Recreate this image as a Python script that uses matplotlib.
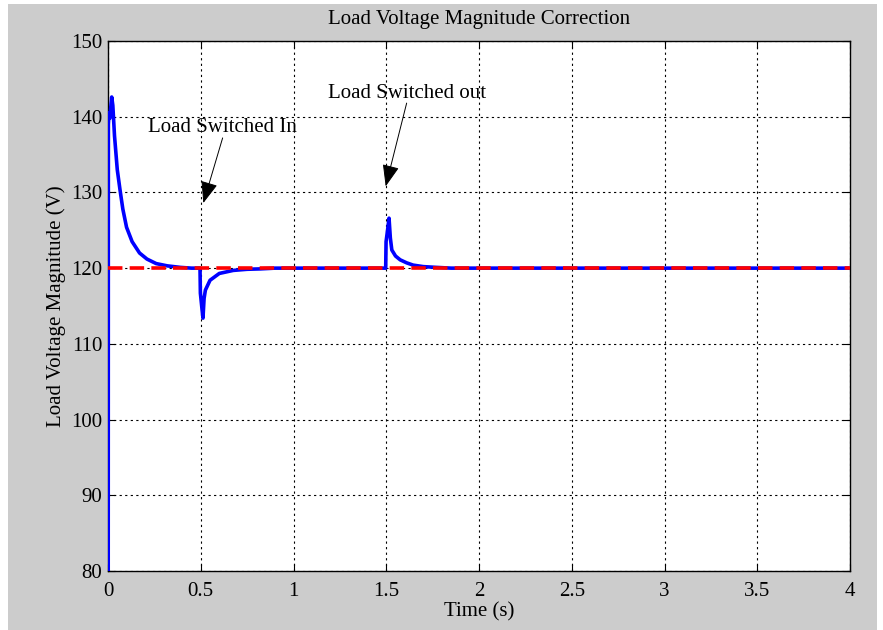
import matplotlib
matplotlib.use('Agg')
import matplotlib.pyplot as plt
from matplotlib.patches import Rectangle

# blue trace: load voltage magnitude
time_s = [0.0, 0.002, 0.006, 0.010, 0.014, 0.020, 0.026, 0.035, 0.050, 0.065,
          0.080, 0.100, 0.130, 0.170, 0.210, 0.260, 0.320, 0.390, 0.450,
          0.496, 0.498, 0.505, 0.512, 0.518, 0.525, 0.550, 0.600, 0.675,
          0.750, 0.820, 0.900,
          1.497, 1.499, 1.507, 1.515, 1.522, 1.530, 1.550, 1.575, 1.610,
          1.645, 1.700, 1.770, 1.850, 4.0]
voltage = [0.0, 139.0, 140.5, 139.8, 141.0, 142.6, 141.5, 137.5, 133.0, 130.3,
           127.8, 125.4, 123.5, 122.0, 121.2, 120.6, 120.3, 120.1, 120.0,
           120.0, 116.7, 115.0, 113.4, 116.0, 117.1, 118.4, 119.3, 119.7,
           119.85, 119.9, 120.0,
           120.0, 123.5, 125.0, 126.6, 124.0, 122.4, 121.6, 121.1, 120.7,
           120.4, 120.2, 120.1, 120.0, 120.0]

# red dashed reference
ref_time = [0.0, 4.0]
ref_voltage = [120.0, 120.0]

x_ticks = [0, 0.5, 1, 1.5, 2, 2.5, 3, 3.5, 4]
x_tick_labels = ['0', '0.5', '1', '1.5', '2', '2.5', '3', '3.5', '4']
y_ticks = [80, 90, 100, 110, 120, 130, 140, 150]

plt.rcParams['font.family'] = ['Liberation Serif', 'DejaVu Serif']
plt.rcParams['font.size'] = 15

fig = plt.figure(figsize=(8.83, 6.3), dpi=100)
fig.patch.set_facecolor('white')
fig.patches.append(Rectangle((8 / 883, 0), 869 / 883, 626 / 630,
                             transform=fig.transFigure, facecolor='#cccccc',
                             edgecolor='none', zorder=-10))

ax = fig.add_axes([108 / 883, 59 / 630, 742 / 883, 530 / 630])
ax.set_facecolor('white')

ax.plot(time_s, voltage, color='blue', lw=2.6, zorder=3)
ax.plot(ref_time, ref_voltage, color='red', lw=2.6, ls=(0, (4, 2)), zorder=4)

ax.set_xlim(0, 4)
ax.set_ylim(80, 150)
ax.set_xticks(x_ticks)
ax.set_xticklabels(x_tick_labels)
ax.set_yticks(y_ticks)
ax.grid(True, color='black', ls=(0, (2, 3)), lw=0.8)
ax.tick_params(direction='in', length=5, top=True, right=True)
ax.tick_params(axis='x', pad=8)
ax.tick_params(axis='y', pad=4)
for s in ax.spines.values():
    s.set_linewidth(1.0)

ax.set_title('Load Voltage Magnitude Correction', fontsize=15, pad=12)
ax.set_xlabel('Time (s)', labelpad=1)
ax.set_ylabel('Load Voltage Magnitude (V)', labelpad=4)

arrow = dict(arrowstyle='-|>,head_length=0.9,head_width=0.35', color='black',
             lw=0.7, shrinkA=0, shrinkB=0)
ax.annotate('', xy=(0.514, 128.6), xytext=(0.618, 137.2), arrowprops=arrow)
ax.text(0.617, 138.6, 'Load Switched In', ha='center', va='center')
ax.annotate('', xy=(1.497, 130.8), xytext=(1.610, 141.8), arrowprops=arrow)
ax.text(1.612, 143.0, 'Load Switched out', ha='center', va='center')

fig.savefig('out.png', dpi=100)
